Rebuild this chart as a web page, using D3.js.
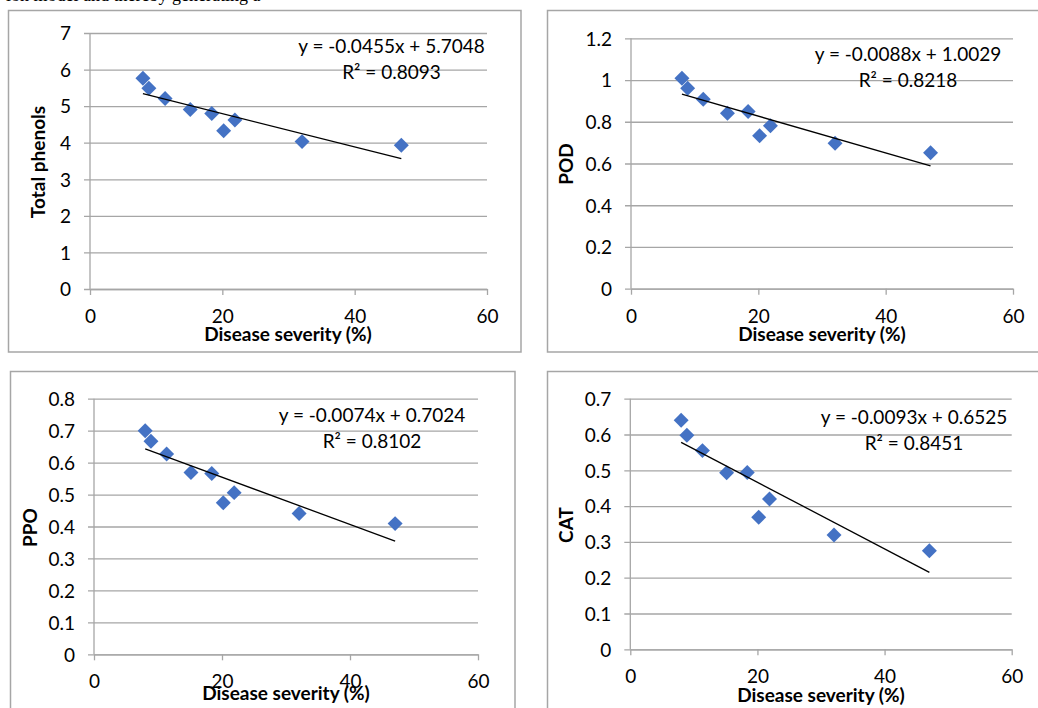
<!DOCTYPE html>
<html>
<head>
<meta charset="utf-8">
<script src="https://cdn.jsdelivr.net/npm/d3@7"></script>
<style>
body { margin: 0; background: #fff; }
svg text { font-family: Lato, "Liberation Sans", sans-serif; fill: #000; }
.tick text { font-size: 19px; }
.axis-title { font-size: 19px; font-weight: bold; }
.eq { font-size: 19px; }
.caption { font-family: "Liberation Serif", serif; font-size: 18px; }
</style>
</head>
<body>
<script>
// disease severity (%) - same x for every chart
var severity = [8.0, 8.9, 11.35, 15.15, 18.4, 20.2, 21.9, 32.05, 47.05];

var totalPhenols = [5.76, 5.49, 5.21, 4.91, 4.80, 4.33, 4.62, 4.03, 3.93];
var pod = [1.009, 0.961, 0.908, 0.841, 0.849, 0.733, 0.781, 0.697, 0.652];
var ppo = [0.700, 0.667, 0.627, 0.569, 0.566, 0.474, 0.506, 0.441, 0.409];
var cat = [0.640, 0.598, 0.555, 0.493, 0.494, 0.369, 0.420, 0.319, 0.275];

var names = ["Total phenols", "POD", "PPO", "CAT"];
var slopes = [-0.0455, -0.0088, -0.0074, -0.0093];
var intercepts = [5.7048, 1.0029, 0.7024, 0.6525];
var rSquared = ["0.8093", "0.8218", "0.8102", "0.8451"];

var xTicks = [0, 20, 40, 60];
var yTicks1 = [0, 1, 2, 3, 4, 5, 6, 7];
var yTicks2 = [0, 0.2, 0.4, 0.6, 0.8, 1, 1.2];
var yTicks3 = [0, 0.1, 0.2, 0.3, 0.4, 0.5, 0.6, 0.7, 0.8];
var yTicks4 = [0, 0.1, 0.2, 0.3, 0.4, 0.5, 0.6, 0.7];

var series = [totalPhenols, pod, ppo, cat];
var yTickSets = [yTicks1, yTicks2, yTicks3, yTicks4];

// layout of each panel (page pixels)
var layout = [
  {box: [8.5, 10.5, 521, 352], plot: [90, 33, 487, 289], eqX: 391.5, eqY: [53.3, 79.3], xt: [288, 341], yt: [45, 162]},
  {box: [547.5, 10.5, 1050, 352], plot: [631, 38.3, 1013, 288.7], eqX: 908, eqY: [60.7, 87.3], xt: [822, 341], yt: [573, 164]},
  {box: [10.5, 371.5, 515, 720], plot: [94, 398.7, 478, 654.3], eqX: 372, eqY: [422.3, 447.7], xt: [286, 700], yt: [37, 527.5]},
  {box: [547.5, 371.5, 1050, 720], plot: [630.3, 398.7, 1011.7, 649.3], eqX: 914, eqY: [424.3, 450.3], xt: [821, 702], yt: [573, 525]}
];

var width = 1038, height = 708;
var gridColor = "#a6a6a6";
var markColor = "#4472c4";

var svg = d3.select("body").append("svg")
            .attr("width", width).attr("height", height);

// cut-off line of the page text above the charts
svg.append("text").classed("caption", true)
   .attr("x", 6).attr("y", 1)
   .text("ion model and thereby generating a");

var diamond = d3.symbol().type(d3.symbolSquare).size(112);

names.forEach(function(name, i) {
  var L = layout[i];
  var left = L.plot[0], top = L.plot[1], right = L.plot[2], bottom = L.plot[3];
  var yTicks = yTickSets[i];

  var x = d3.scaleLinear().domain([0, 60]).range([left, right]);
  var y = d3.scaleLinear().domain([0, d3.max(yTicks)]).range([bottom, top]);

  var g = svg.append("g");

  g.append("rect")
   .attr("x", L.box[0]).attr("y", L.box[1])
   .attr("width", L.box[2] - L.box[0]).attr("height", L.box[3] - L.box[1])
   .attr("fill", "none").attr("stroke", gridColor).attr("stroke-width", 1.5);

  // y axis with gridlines
  var yAxis = g.append("g").attr("transform", "translate(" + left + ",0)")
    .call(d3.axisLeft(y).tickValues(yTicks).tickSizeInner(-(right - left)).tickSizeOuter(0).tickPadding(19)
          .tickFormat(function(d) { return d3.format("~g")(d); }));
  yAxis.select(".domain").remove();
  yAxis.selectAll(".tick line").attr("x1", -6).attr("stroke", gridColor).attr("stroke-width", 1.3);
  yAxis.selectAll(".tick text").attr("dy", "0.36em");
  yAxis.append("line").attr("x1", 0).attr("x2", 0).attr("y1", top).attr("y2", bottom)
       .attr("stroke", gridColor).attr("stroke-width", 1.3);

  // x axis
  var xAxis = g.append("g").attr("transform", "translate(0," + bottom + ")")
    .call(d3.axisBottom(x).tickValues(xTicks).tickSizeInner(6).tickSizeOuter(0));
  xAxis.select(".domain").attr("stroke", gridColor).attr("stroke-width", 1.3);
  xAxis.selectAll(".tick line").attr("stroke", gridColor).attr("stroke-width", 1.3);
  xAxis.selectAll(".tick text").attr("y", 34).attr("dy", 0);

  // points
  g.append("g").selectAll("path").data(severity).enter().append("path")
   .attr("d", diamond)
   .attr("transform", function(d, k) {
     return "translate(" + x(d) + "," + y(series[i][k]) + ") rotate(45)";
   })
   .attr("fill", markColor);

  // linear trend line
  var ext = d3.extent(severity);
  g.append("line")
   .attr("x1", x(ext[0])).attr("y1", y(slopes[i] * ext[0] + intercepts[i]))
   .attr("x2", x(ext[1])).attr("y2", y(slopes[i] * ext[1] + intercepts[i]))
   .attr("stroke", "#000").attr("stroke-width", 1.3);

  g.append("text").classed("eq", true)
   .attr("x", L.eqX).attr("y", L.eqY[0]).attr("text-anchor", "middle")
   .text("y = " + slopes[i].toFixed(4) + "x + " + intercepts[i].toFixed(4));
  g.append("text").classed("eq", true)
   .attr("x", L.eqX).attr("y", L.eqY[1]).attr("text-anchor", "middle")
   .text("R\u00b2 = " + rSquared[i]);

  g.append("text").classed("axis-title", true)
   .attr("x", L.xt[0]).attr("y", L.xt[1]).attr("text-anchor", "middle")
   .text("Disease severity (%)");
  g.append("text").classed("axis-title", true)
   .attr("transform", "translate(" + L.yt[0] + "," + L.yt[1] + ") rotate(-90)")
   .attr("text-anchor", "middle")
   .text(name);
});
</script>
</body>
</html>
